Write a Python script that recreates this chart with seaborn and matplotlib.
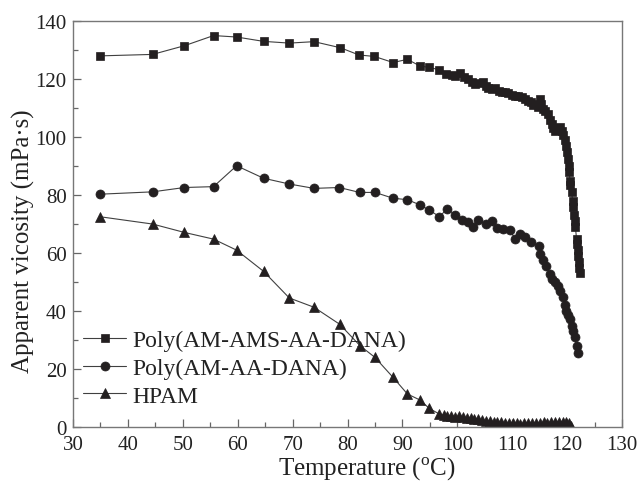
import matplotlib
matplotlib.use("Agg")
import matplotlib.pyplot as plt
import seaborn as sns
import pandas as pd
from matplotlib.ticker import MultipleLocator

# ---- data ----
sq_T = [35, 44.5, 50.3, 55.6, 59.8, 64.7, 69.4, 73.9, 78.7, 82.1, 84.9, 88.3, 90.9,
        93.2, 94.9, 96.7, 98.0, 99.0, 99.6, 100.5, 101.3, 102.0, 102.6, 103.2, 104.0,
        104.6, 105.2, 105.6, 106.3, 106.9, 107.5, 108.1, 108.7, 109.3, 109.9, 110.5,
        111.1, 111.7, 112.3, 112.9, 113.4, 113.8, 114.3, 114.6, 115.0, 115.3, 115.6,
        116.0, 116.5, 116.9, 117.2, 117.5, 117.8, 118.2, 118.7, 119.0, 119.3, 119.6,
        119.8, 120.0, 120.1, 120.3, 120.4, 120.5, 120.6, 120.8, 121.0, 121.1, 121.3,
        121.4, 121.5, 121.7, 121.8, 121.9, 122.0, 122.1, 122.2, 122.3]
sq_V = [128.0, 128.5, 131.5, 135.0, 134.5, 133.0, 132.4, 132.9, 130.8, 128.3, 127.8,
        125.7, 126.8, 124.5, 124.0, 123.2, 121.7, 121.5, 120.9, 122.0, 120.8, 120.0,
        119.0, 118.3, 118.8, 119.1, 117.5, 116.8, 116.5, 116.8, 116.0, 115.4, 115.6,
        115.2, 114.6, 114.3, 114.0, 113.8, 113.2, 112.5, 112.0, 111.0, 111.3, 110.5,
        113.0, 111.5, 109.7, 109.0, 108.0, 106.0, 104.5, 103.0, 102.2, 103.0, 103.3,
        102.0, 100.6, 99.0, 97.0, 95.0, 92.4, 90.0, 87.8, 85.0, 83.5, 81.0, 78.0,
        76.0, 73.0, 71.0, 69.0, 65.0, 63.0, 61.0, 59.0, 57.0, 55.0, 53.0]

ci_T = [35, 44.5, 50.3, 55.6, 59.8, 64.7, 69.4, 73.9, 78.5, 82.2, 85.0, 88.3, 90.9,
        93.2, 94.9, 96.7, 98.2, 99.6, 100.8, 102.0, 102.8, 103.8, 105.3, 106.4, 107.2,
        108.4, 109.6, 110.5, 111.4, 112.3, 113.5, 114.9, 115.0, 115.6, 116.2, 116.8,
        117.3, 117.8, 118.3, 118.7, 119.3, 119.6, 119.8, 120.2, 120.5, 120.8, 121.1,
        121.4, 121.7, 122.0]
ci_V = [80.3, 81.1, 82.6, 82.9, 90.1, 85.8, 83.8, 82.3, 82.6, 80.9, 80.9, 78.9, 78.4,
        76.6, 74.8, 72.6, 75.2, 73.1, 71.4, 70.8, 69.1, 71.4, 70.0, 70.9, 68.8, 68.3,
        67.9, 64.8, 66.6, 65.4, 63.9, 62.3, 59.7, 57.5, 55.6, 52.8, 51.0, 49.9, 48.5,
        47.0, 44.7, 42.0, 40.1, 38.5, 37.2, 34.9, 33.0, 31.0, 28.0, 25.5]

tr_T = [35, 44.5, 50.3, 55.6, 59.8, 64.7, 69.4, 73.9, 78.6, 82.3, 85.0, 88.3, 90.9,
        93.2, 94.9, 96.7, 97.5, 98.2, 98.9, 99.6, 100.3, 101.0, 101.7, 102.4, 103.1,
        103.8, 104.5, 105.2, 105.9, 106.6, 107.3, 108.0, 108.7, 109.4, 110.1, 110.8,
        111.5, 112.2, 112.9, 113.6, 114.3, 115.0, 115.7, 116.4, 117.1, 117.8, 118.5,
        119.2, 119.8, 120.3, 120.7]
tr_V = [72.5, 70.0, 67.1, 64.8, 61.0, 53.7, 44.5, 41.3, 35.4, 28.0, 24.0, 17.1, 11.4,
        9.3, 6.4, 4.5, 4.0, 3.8, 3.9, 3.6, 3.7, 3.4, 3.2, 3.0, 2.8, 2.7, 2.4, 2.2, 2.1,
        1.8, 1.7, 1.6, 1.5, 1.4, 1.3, 1.4, 1.2, 1.3, 1.4, 1.3, 1.5, 1.4, 1.6, 1.5, 1.7,
        1.6, 1.8, 1.8, 1.9, 1.5, 0.3]

labels = ["Poly(AM-AMS-AA-DANA)", "Poly(AM-AA-DANA)", "HPAM"]
x_ticks = [30, 40, 50, 60, 70, 80, 90, 100, 110, 120, 130]
y_ticks = [0, 20, 40, 60, 80, 100, 120, 140]

# ---- style ----
sns.set_style("ticks")
plt.rcParams["font.family"] = ["Liberation Serif", "DejaVu Serif"]
plt.rcParams["mathtext.fontset"] = "custom"
plt.rcParams["mathtext.rm"] = "Liberation Serif"

fig = plt.figure(figsize=(6.4, 4.85), dpi=100)
ax = fig.add_axes([0.114, 0.1175, 0.858, 0.837])

mk = "#231f20"
ln = "#404040"
series = [(sq_T, sq_V, "s", 6.0), (ci_T, ci_V, "o", 6.5), (tr_T, tr_V, "^", 7.0)]
for (T, V, m, ms), lab in zip(series, labels):
    df = pd.DataFrame({"T": T, "V": V})
    sns.lineplot(data=df, x="T", y="V", ax=ax, sort=False, estimator=None,
                 marker=m, markersize=ms, color=ln, linewidth=0.8,
                 markerfacecolor=mk, markeredgecolor=mk, markeredgewidth=0.5,
                 label=lab)

ax.set_xlim(30, 130)
ax.set_ylim(0, 140)
ax.set_xticks(x_ticks)
ax.set_yticks(y_ticks)
ax.xaxis.set_minor_locator(MultipleLocator(5))
ax.yaxis.set_minor_locator(MultipleLocator(10))
ax.tick_params(which="both", direction="in", colors="#666666", labelcolor="#222222",
               labelsize=15, top=False, right=False)
ax.tick_params(which="major", length=6, width=0.9)
ax.tick_params(which="minor", length=3.5, width=0.9)
ax.tick_params(axis="x", which="major", pad=6)
ax.tick_params(axis="y", which="major", pad=4.5)
for s in ax.spines.values():
    s.set_color("#777777")
    s.set_linewidth(1.0)

ax.set_xlabel("Temperature ($^{\\rm o}$C)", fontsize=18, color="#222222")
ax.set_ylabel("Apparent vicosity (mPa\u00b7s)", fontsize=18, color="#222222")
ax.xaxis.set_label_coords(0.535, -0.069)
ax.yaxis.set_label_coords(-0.069, 0.46)

leg = ax.legend(loc="lower left", bbox_to_anchor=(0.0175, 0.05), frameon=False,
                fontsize=17, labelspacing=0.27, handlelength=1.86, handletextpad=0.25,
                borderpad=0, borderaxespad=0)
for t in leg.get_texts():
    t.set_color("#222222")

fig.savefig("out.png", dpi=100)
